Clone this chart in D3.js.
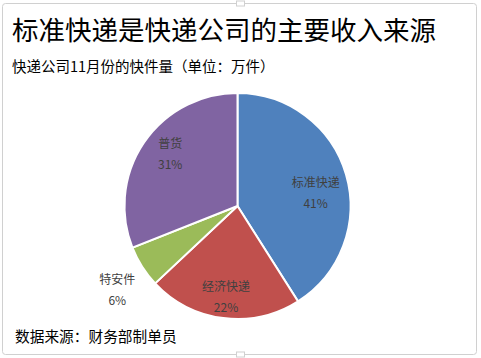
<!DOCTYPE html>
<html>
<head>
<meta charset="utf-8">
<script src="https://cdn.jsdelivr.net/npm/d3@7"></script>
<style>
  body { margin: 0; background: #fff; }
  text { font-family: "Noto Sans CJK SC", "Noto Sans", sans-serif; }
</style>
</head>
<body>
<div id="chart"></div>
<script>
var width = 481, height = 358;

// data
var categories = ["标准快递", "经济快递", "特安件", "普货"];
var values = [41, 22, 6, 31];
var colors = ["#4F81BD", "#C0504D", "#9BBB59", "#8064A2"];

var title = "标准快递是快递公司的主要收入来源";
var subtitle = "快递公司11月份的快件量（单位：万件）";
var source = "数据来源：财务部制单员";

var data = categories.map(function(c, i) { return {name: c, value: values[i]}; });

var svg = d3.select("#chart")
  .append("svg")
    .attr("width", width)
    .attr("height", height);

// chart frame
svg.append("rect")
    .attr("x", 2.5)
    .attr("y", 3.5)
    .attr("width", 474)
    .attr("height", 351)
    .attr("rx", 3)
    .style("fill", "#fff")
    .style("stroke", "#d0d0d0");

// little handles at top/bottom middle
[3.5, 354.5].forEach(function(y) {
  svg.append("rect")
      .attr("x", 236.5)
      .attr("y", y - 2.5)
      .attr("width", 8)
      .attr("height", 5)
      .style("fill", "#fff")
      .style("stroke", "#d0d0d0");
});

svg.append("text")
    .attr("x", 12)
    .attr("y", 40)
    .style("font-size", "26.5px")
    .style("fill", "#000")
    .text(title);

svg.append("text")
    .attr("x", 12)
    .attr("y", 72)
    .style("font-size", "14.5px")
    .style("fill", "#000")
    .text(subtitle);

svg.append("text")
    .attr("x", 15)
    .attr("y", 342)
    .style("font-size", "14.7px")
    .style("fill", "#000")
    .text(source);

var cx = 237.5, cy = 206, r = 113;

var pie = d3.pie()
    .sort(null)
    .value(function(d) { return d.value; });

var arc = d3.arc()
    .innerRadius(0)
    .outerRadius(r);

var g = svg.append("g")
    .attr("transform", "translate(" + cx + "," + cy + ")");

var arcs = pie(data);

g.selectAll("path")
  .data(arcs)
  .enter().append("path")
    .attr("d", arc)
    .style("fill", function(d, i) { return colors[i]; })
    .style("stroke", "#fff")
    .style("stroke-width", 2);

// label placement (fraction of radius along mid angle, plus a nudge)
var labelR = [0.72, 0.81, 1.26, 0.72];
var labelDy = [10, 0, 8, -6];
var total = d3.sum(values);

var labels = g.selectAll(".lbl")
  .data(arcs)
  .enter().append("g")
    .attr("class", "lbl")
    .attr("transform", function(d, i) {
      var a = (d.startAngle + d.endAngle) / 2;
      var rr = r * labelR[i];
      return "translate(" + (Math.sin(a) * rr) + "," + (-Math.cos(a) * rr + labelDy[i]) + ")";
    });

labels.append("text")
    .attr("text-anchor", "middle")
    .attr("y", -6)
    .style("font-size", "12px")
    .style("fill", "#404040")
    .text(function(d) { return d.data.name; });

labels.append("text")
    .attr("text-anchor", "middle")
    .attr("y", 15)
    .style("font-size", "12px")
    .style("fill", "#404040")
    .text(function(d) { return Math.round(d.data.value / total * 100) + "%"; });
</script>
</body>
</html>
